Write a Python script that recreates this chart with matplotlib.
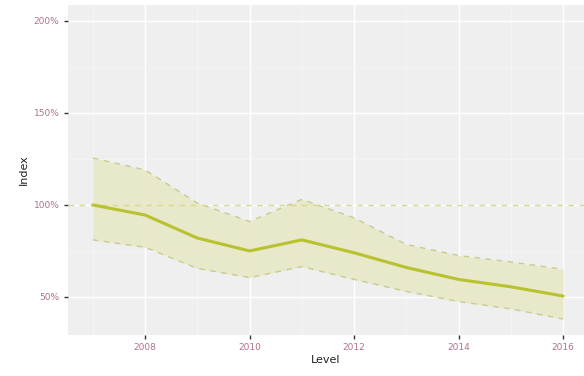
import matplotlib
matplotlib.use("Agg")
import matplotlib.pyplot as plt
from matplotlib.ticker import FixedLocator

years = [2007, 2008, 2009, 2010, 2011, 2012, 2013, 2014, 2015, 2016]
mid = [100, 94.5, 82, 75, 81, 74, 66, 59.5, 55.5, 50.5]
upper = [125.5, 119, 101, 91, 103, 93, 78.5, 72.5, 69, 65]
lower = [81, 77, 65.5, 60.5, 66.5, 59.5, 53, 47.5, 43.5, 38]
yticks = [50, 100, 150, 200]
ytick_labels = ["50%", "100%", "150%", "200%"]
xticks = [2008, 2010, 2012, 2014, 2016]

fig = plt.figure(figsize=(5.84, 3.76), dpi=100)
ax = fig.add_axes([0.116, 0.109, 0.884, 0.878])
ax.set_facecolor("#efefef")
for s in ax.spines.values():
    s.set_visible(False)

ax.set_xlim(2006.52, 2016.40)
ax.set_ylim(29.3, 208.7)
ax.xaxis.set_major_locator(FixedLocator(xticks))
ax.xaxis.set_minor_locator(FixedLocator([2007, 2009, 2011, 2013, 2015]))
ax.yaxis.set_major_locator(FixedLocator(yticks))
ax.yaxis.set_minor_locator(FixedLocator([75, 125, 175]))
ax.grid(which="major", color="white", linewidth=1.0)
ax.grid(which="minor", color="#f7f7f7", linewidth=0.5)
ax.set_axisbelow(True)

ax.fill_between(years, lower, upper, color="#e8e8c6", alpha=0.9, linewidth=0, zorder=2)
ax.plot(years, upper, color="#c8cb92", linestyle=(0, (4, 4)), linewidth=1.0, zorder=3)
ax.plot(years, lower, color="#c8cb92", linestyle=(0, (4, 4)), linewidth=1.0, zorder=3)
ax.axhline(100, color="#d8d890", linestyle=(0, (4, 4)), linewidth=1.0, zorder=3)
ax.plot(years, mid, color="#b8c22e", linewidth=2.2, zorder=4, solid_capstyle="round")

ax.set_yticklabels(ytick_labels)
ax.tick_params(axis="both", which="major", length=3, width=1, color="#333333",
               labelsize=6.5, labelcolor="#b0708f", pad=3)
ax.tick_params(axis="both", which="minor", length=0)
ax.set_xlabel("Level", fontsize=8, color="#222222", labelpad=2)
ax.set_ylabel("Index", fontsize=8, color="#222222", labelpad=3)

fig.savefig("out.png", dpi=100)
